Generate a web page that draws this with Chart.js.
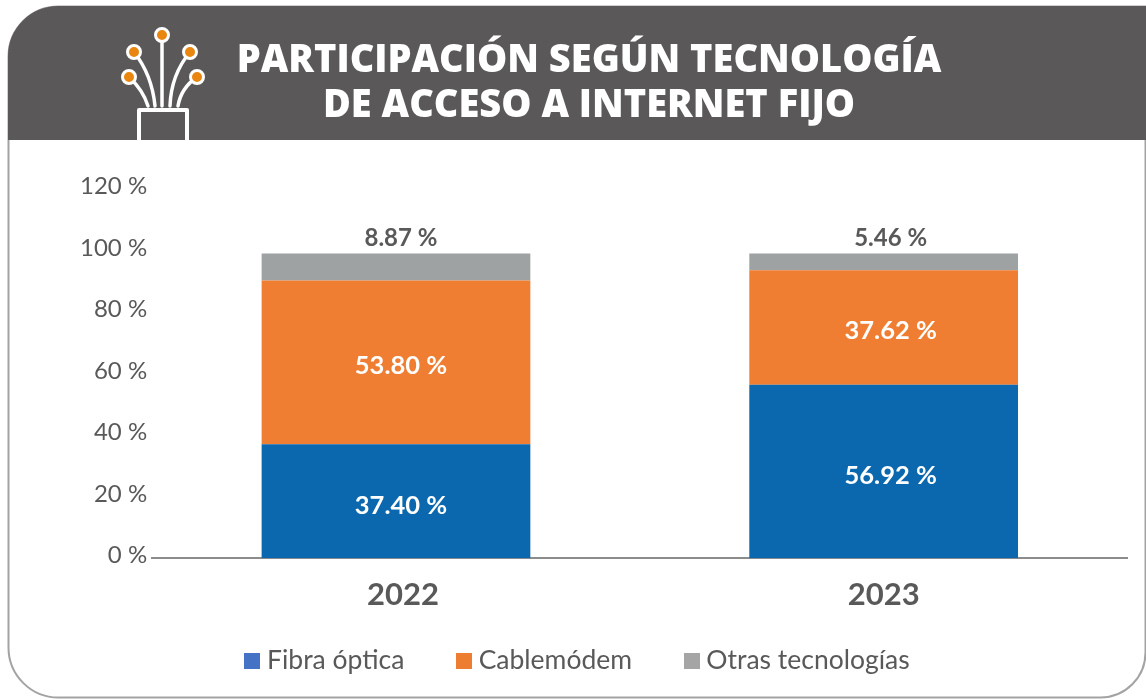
<!DOCTYPE html>
<html><head><meta charset="utf-8">
<script src="https://cdn.jsdelivr.net/npm/chart.js@4"></script>
<style>html,body{margin:0;padding:0;background:#fff}#w{width:1146px;height:700px}</style>
</head><body><div id="w"><canvas id="c" width="1146" height="700"></canvas></div>
<script>
const categories = ['2022','2023'];
const fibra = [37.40,56.92];
const cable = [53.80,37.62];
const otras = [8.87,5.46];
const yTicks = [0,20,40,60,80,100,120];
const titleLines = ['PARTICIPACIÓN SEGÚN TECNOLOGÍA','DE ACCESO A INTERNET FIJO'];
const legendSwatch = ['#4472C4','#ED7D31','#A5A5A5'];
const BODY='Lato, sans-serif', HEAD='"Open Sans", sans-serif';

function fmt(v){return v.toFixed(2)+' %';}
function swatch(col){
  const s=document.createElement('canvas');s.width=16;s.height=16;
  const g=s.getContext('2d');g.fillStyle=col;g.fillRect(0,0,16,16);
  return s;
}

const frame = {
  id:'frame',
  afterLayout(ch){
    ch.titleBlock.left=32;ch.titleBlock.right=1146;
    ch.legend.left-=21;ch.legend.right-=21;
    ch.scales.x.bottom+=30;
  },
  beforeDraw(ch){
    ch.scales.y.getLabelItems().forEach((it,i)=>{it.options.translation[1]-=3+i*0.5;});
    const xi=ch.scales.x.getLabelItems();
    xi[0].options.translation[0]+=7;
    const x=ch.ctx;
    x.save();
    x.fillStyle='#fff';x.fillRect(0,0,1146,700);
    x.beginPath();x.roundRect(8.5,6.5,1137,691,[50,0,45,50]);
    x.strokeStyle='#a3a3a3';x.lineWidth=2;x.stroke();
    x.beginPath();x.roundRect(8,6,1138,134,[50,0,0,0]);
    x.fillStyle='#5a5859';x.fill();
    x.strokeStyle='#fff';x.lineWidth=4;x.lineCap='round';x.lineJoin='round';
    x.beginPath();x.moveTo(139,140);x.lineTo(139,110);x.lineTo(187,110);x.lineTo(187,140);x.stroke();
    const fib=[[[148,106],[143,90],[129,77]],[[155,106],[152,75],[134,52]],[[162,106],[162,80],[162,36]],
               [[170,106],[171,75],[190,52]],[[178,106],[181,88],[197,77]]];
    x.lineWidth=3.5;
    fib.forEach(f=>{x.beginPath();x.moveTo(...f[0]);x.quadraticCurveTo(...f[1],...f[2]);x.stroke();});
    [[129,77],[134,52],[162,35],[190,52],[197,77]].forEach(p=>{
      x.beginPath();x.arc(p[0],p[1],6.5,0,7);x.fillStyle='#E8860F';x.fill();
      x.strokeStyle='#fff';x.lineWidth=3;x.stroke();
    });
    x.restore();
  }
};
const labels = {
  id:'valueLabels',
  afterDatasetsDraw(ch){
    const x=ch.ctx;
    x.save();x.textAlign='center';x.textBaseline='middle';
    ch.data.datasets.forEach((d,i)=>{
      ch.getDatasetMeta(i).data.forEach((b,j)=>{
        const base=b.base,y=b.y,dx=j===0?5:7;
        if(i===2){x.font='700 24px '+BODY;x.fillStyle='#595959';x.fillText(fmt(d.data[j]),b.x+dx,y-15);}
        else{x.font='700 25.5px '+BODY;x.fillStyle='#fff';x.fillText(fmt(d.data[j]),b.x+dx,(y+base)/2+(i===0?4:3));}
      });
    });
    x.restore();
  }
};
new Chart(document.getElementById('c'),{
  type:'bar',
  data:{labels:categories,datasets:[
    {label:'Fibra óptica',data:fibra,backgroundColor:'#0B68AE',stack:'s'},
    {label:'Cablemódem',data:cable,backgroundColor:'#EF7E33',stack:'s'},
    {label:'Otras tecnologías',data:otras,backgroundColor:'#9FA2A3',stack:'s'}
  ]},
  plugins:[frame,labels],
  options:{
    responsive:false,animation:false,
    layout:{padding:{left:75,right:18.5,top:0,bottom:16}},
    datasets:{bar:{categoryPercentage:1,barPercentage:0.551,borderWidth:0}},
    plugins:{
      tooltip:{enabled:false},
      title:{display:true,text:titleLines,color:'#fff',font:{family:HEAD,weight:'800',size:38,lineHeight:1.18},
        padding:{top:39,bottom:64}},
      legend:{position:'bottom',labels:{
        usePointStyle:true,boxWidth:3,boxHeight:3,padding:58,color:'#595959',font:{family:BODY,size:26.5},
        generateLabels(ch){return ch.data.datasets.map((d,i)=>({text:d.label,pointStyle:swatch(legendSwatch[i]),fillStyle:legendSwatch[i],strokeStyle:legendSwatch[i],lineWidth:0,datasetIndex:i,fontColor:'#595959'}));}
      }}
    },
    scales:{
      x:{stacked:true,grid:{display:false},border:{color:'#8c8c8c',width:2},
        afterFit(a){a.height-=34;},
        ticks:{color:'#595959',font:{family:BODY,size:31,weight:'700'},padding:10,maxRotation:0}},
      y:{stacked:true,min:0,max:120,afterBuildTicks(a){a.ticks=yTicks.map(v=>({value:v}));},
        grid:{display:false,tickLength:0},border:{display:false},
        ticks:{color:'#595959',font:{family:BODY,size:24},padding:5,callback:v=>v+' %'}}
    }
  }
});
</script></body></html>
